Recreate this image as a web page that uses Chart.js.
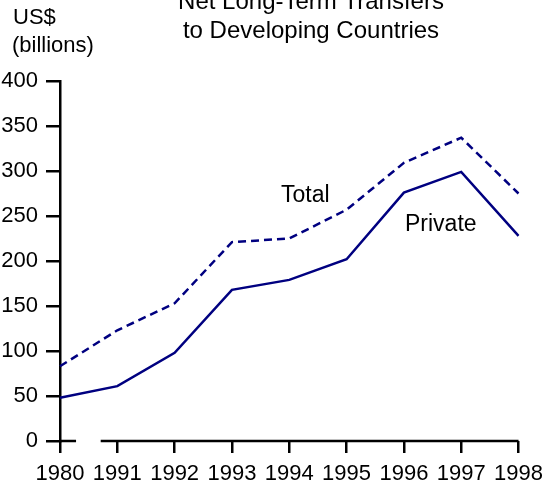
<!DOCTYPE html>
<html>
<head>
<meta charset="utf-8">
<title>Net Long-Term Transfers to Developing Countries</title>
<script src="https://cdn.jsdelivr.net/npm/chart.js@4.4.0/dist/chart.umd.min.js"></script>
<style>
    html, body { margin: 0; padding: 0; background: #fff; }
    #wrap { width: 551px; height: 489px; position: relative; }
</style>
</head>
<body>
<div id="wrap"><canvas id="transferChart"></canvas></div>
<script>
// 数据
const years = ['1980', '1991', '1992', '1993', '1994', '1995', '1996', '1997', '1998'];
const totalValues = [83, 123, 153, 221, 225, 257, 309, 337, 275];
const privateValues = [48, 61, 98, 168, 179, 202, 276, 299, 228];
const yTicks = [0, 50, 100, 150, 200, 250, 300, 350, 400];

const navy = '#000080';
const fontFamily = '"Liberation Sans", Arial, sans-serif';

// 标题、单位和线条标注
const textPlugin = {
    id: 'texts',
    afterDraw(chart) {
        const ctx = chart.ctx;
        ctx.save();
        ctx.fillStyle = '#000';
        ctx.textBaseline = 'alphabetic';
        ctx.textAlign = 'center';
        ctx.font = '24px ' + fontFamily;
        ctx.fillText('Net Long-Term Transfers', 311, 9);
        ctx.fillText('to Developing Countries', 311, 38);
        ctx.textAlign = 'left';
        ctx.font = '22px ' + fontFamily;
        ctx.fillText('US$', 13, 24);
        ctx.fillText('(billions)', 12, 52);
        ctx.font = '23px ' + fontFamily;
        ctx.fillText('Total', 281, 202);
        ctx.fillText('Private', 405, 231);
        ctx.restore();
    }
};

// x轴（1980与1991之间断开）
const brokenAxisPlugin = {
    id: 'brokenAxis',
    afterDraw(chart) {
        const ctx = chart.ctx;
        const x = chart.scales.x;
        const y = chart.chartArea.bottom;
        const p0 = x.getPixelForValue(0);
        const p1 = x.getPixelForValue(1);
        ctx.save();
        ctx.strokeStyle = '#000';
        ctx.lineWidth = 2.5;
        ctx.beginPath();
        ctx.moveTo(p0, y);
        ctx.lineTo(p0 + (p1 - p0) * 0.28, y);
        ctx.moveTo(p0 + (p1 - p0) * 0.71, y);
        ctx.lineTo(x.right, y);
        ctx.stroke();
        ctx.restore();
    }
};

const ctx = document.getElementById('transferChart').getContext('2d');
const transferChart = new Chart(ctx, {
    type: 'line',
    data: {
        labels: years,
        datasets: [{
            label: 'Total',
            data: totalValues,
            borderColor: navy,
            borderWidth: 2.5,
            borderDash: [8, 5],
            pointRadius: 0,
            fill: false,
            tension: 0
        }, {
            label: 'Private',
            data: privateValues,
            borderColor: navy,
            borderWidth: 2.5,
            pointRadius: 0,
            fill: false,
            tension: 0
        }]
    },
    options: {
        responsive: true,
        maintainAspectRatio: false,
        animation: false,
        layout: {
            padding: { top: 81, right: 30, left: 0, bottom: 0 }
        },
        scales: {
            x: {
                offset: false,
                afterFit(scale) { scale.height = 48; },
                border: { display: false },
                grid: {
                    drawOnChartArea: false,
                    drawTicks: true,
                    tickLength: 12,
                    color: '#000',
                    lineWidth: 2.5
                },
                ticks: {
                    color: '#000',
                    font: { size: 22, family: fontFamily },
                    padding: 8,
                    maxRotation: 0,
                    autoSkip: false
                }
            },
            y: {
                min: 0,
                max: 400,
                afterFit(scale) { scale.width = 60; },
                afterBuildTicks(scale) {
                    scale.ticks = yTicks.map(v => ({ value: v }));
                },
                border: { display: true, color: '#000', width: 2.5 },
                grid: {
                    drawOnChartArea: false,
                    drawTicks: true,
                    tickLength: 14,
                    color: '#000',
                    lineWidth: 2.5
                },
                ticks: {
                    color: '#000',
                    font: { size: 22, family: fontFamily },
                    padding: 8
                }
            }
        },
        plugins: {
            legend: { display: false },
            title: { display: false },
            tooltip: { enabled: false }
        }
    },
    plugins: [textPlugin, brokenAxisPlugin]
});
</script>
</body>
</html>
